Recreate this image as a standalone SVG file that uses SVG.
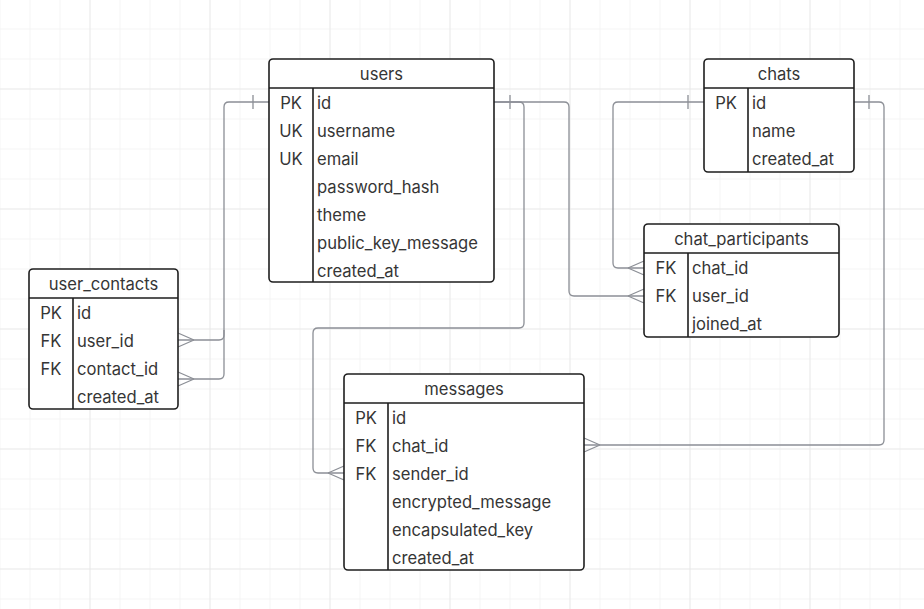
<svg xmlns="http://www.w3.org/2000/svg" width="924" height="609" viewBox="0 0 924 609">
  <defs>
    <pattern id="gridMinor" x="29.5" y="28.5" width="30" height="30" patternUnits="userSpaceOnUse">
      <path d="M0,0 V30 M0,0 H30" fill="none" stroke="#ececec" stroke-width="1"/>
    </pattern>
    <pattern id="gridMajor" x="89.5" y="88.5" width="120" height="120" patternUnits="userSpaceOnUse">
      <path d="M0,0 V120 M0,0 H120" fill="none" stroke="#e0e0e0" stroke-width="1"/>
    </pattern>
  </defs>
  <style>
    .tbl { fill: #ffffff; stroke: #1e1e1e; stroke-width: 1.6; }
    .sep { stroke: #1e1e1e; stroke-width: 1.6; fill: none; }
    .title { font-family: Inter, "Liberation Sans", sans-serif; font-size: 16.6px; fill: #363636; text-anchor: middle; dominant-baseline: central; }
    .key { font-family: Inter, "Liberation Sans", sans-serif; font-size: 16.6px; fill: #363636; text-anchor: middle; dominant-baseline: central; }
    .fld { font-family: Inter, "Liberation Sans", sans-serif; font-size: 16.6px; fill: #363636; dominant-baseline: central; }
    .edge { fill: none; stroke: #8c8f96; stroke-width: 1.3; }
  </style>

  <!-- background grid -->
  <rect width="924" height="609" fill="#ffffff"/>
  <rect width="924" height="609" fill="url(#gridMinor)"/>
  <rect width="924" height="609" fill="url(#gridMajor)"/>

  <!-- relationships -->
  <g id="connectors">
    <!-- users.id -> user_contacts.user_id -->
    <path class="edge" d="M269,102 H229 Q224,102 224,107 V335 Q224,340 219,340 H178"/>
    <path class="edge" d="M253,95 V109 M194,340 L178,333 M194,340 L178,347"/>
    <!-- users.id -> user_contacts.contact_id -->
    <path class="edge" d="M224,330 V374 Q224,379 219,379 H178"/>
    <path class="edge" d="M194,379 L178,372 M194,379 L178,386"/>
    <!-- users.id -> chat_participants.user_id -->
    <path class="edge" d="M494,102 H564 Q569,102 569,107 V291 Q569,296 574,296 H644"/>
    <path class="edge" d="M510,95 V109 M628,296 L644,289 M628,296 L644,303"/>
    <!-- users.id -> messages.sender_id -->
    <path class="edge" d="M494,102 H519 Q524,102 524,107 V323 Q524,328 519,328 H318 Q313,328 313,333 V468 Q313,473 318,473 H344"/>
    <path class="edge" d="M328,473 L344,466 M328,473 L344,480"/>
    <!-- chats.id -> chat_participants.chat_id -->
    <path class="edge" d="M704,102 H618 Q613,102 613,107 V263 Q613,268 618,268 H644"/>
    <path class="edge" d="M688,95 V109 M628,268 L644,261 M628,268 L644,275"/>
    <!-- chats.id -> messages.chat_id -->
    <path class="edge" d="M854,102 H879 Q884,102 884,107 V440 Q884,445 879,445 H584"/>
    <path class="edge" d="M869,95 V109 M600,445 L584,438 M600,445 L584,452"/>
  </g>

  <!-- users -->
  <g id="users">
    <rect class="tbl" x="269" y="59" width="225" height="223" rx="4"/>
    <path class="sep" d="M269,88 H494 M313,88 V282"/>
    <text class="title" x="381.5" y="74">users</text>
    <text class="key" x="291" y="103">PK</text>
    <text class="key" x="291" y="131">UK</text>
    <text class="key" x="291" y="159">UK</text>
    <text class="fld" x="317" y="103">id</text>
    <text class="fld" x="317" y="131">username</text>
    <text class="fld" x="317" y="159">email</text>
    <text class="fld" x="317" y="187">password_hash</text>
    <text class="fld" x="317" y="215">theme</text>
    <text class="fld" x="317" y="243">public_key_message</text>
    <text class="fld" x="317" y="271">created_at</text>
  </g>

  <!-- chats -->
  <g id="chats">
    <rect class="tbl" x="704" y="59" width="150" height="113" rx="4"/>
    <path class="sep" d="M704,88 H854 M748,88 V172"/>
    <text class="title" x="779" y="74">chats</text>
    <text class="key" x="726" y="103">PK</text>
    <text class="fld" x="752" y="103">id</text>
    <text class="fld" x="752" y="131">name</text>
    <text class="fld" x="752" y="159">created_at</text>
  </g>

  <!-- chat_participants -->
  <g id="chat_participants">
    <rect class="tbl" x="644" y="224" width="195" height="113" rx="4"/>
    <path class="sep" d="M644,253 H839 M688,253 V337"/>
    <text class="title" x="741.5" y="239">chat_participants</text>
    <text class="key" x="666" y="268">FK</text>
    <text class="key" x="666" y="296">FK</text>
    <text class="fld" x="692" y="268">chat_id</text>
    <text class="fld" x="692" y="296">user_id</text>
    <text class="fld" x="692" y="324">joined_at</text>
  </g>

  <!-- user_contacts -->
  <g id="user_contacts">
    <rect class="tbl" x="29" y="269" width="149" height="140" rx="4"/>
    <path class="sep" d="M29,298 H178 M73,298 V409"/>
    <text class="title" x="103.5" y="284">user_contacts</text>
    <text class="key" x="51" y="313">PK</text>
    <text class="key" x="51" y="341">FK</text>
    <text class="key" x="51" y="369">FK</text>
    <text class="fld" x="77" y="313">id</text>
    <text class="fld" x="77" y="341">user_id</text>
    <text class="fld" x="77" y="369">contact_id</text>
    <text class="fld" x="77" y="397">created_at</text>
  </g>

  <!-- messages -->
  <g id="messages">
    <rect class="tbl" x="344" y="374" width="240" height="196" rx="4"/>
    <path class="sep" d="M344,403 H584 M388,403 V570"/>
    <text class="title" x="464" y="389">messages</text>
    <text class="key" x="366" y="418">PK</text>
    <text class="key" x="366" y="446">FK</text>
    <text class="key" x="366" y="474">FK</text>
    <text class="fld" x="392" y="418">id</text>
    <text class="fld" x="392" y="446">chat_id</text>
    <text class="fld" x="392" y="474">sender_id</text>
    <text class="fld" x="392" y="502">encrypted_message</text>
    <text class="fld" x="392" y="530">encapsulated_key</text>
    <text class="fld" x="392" y="558">created_at</text>
  </g>
</svg>
